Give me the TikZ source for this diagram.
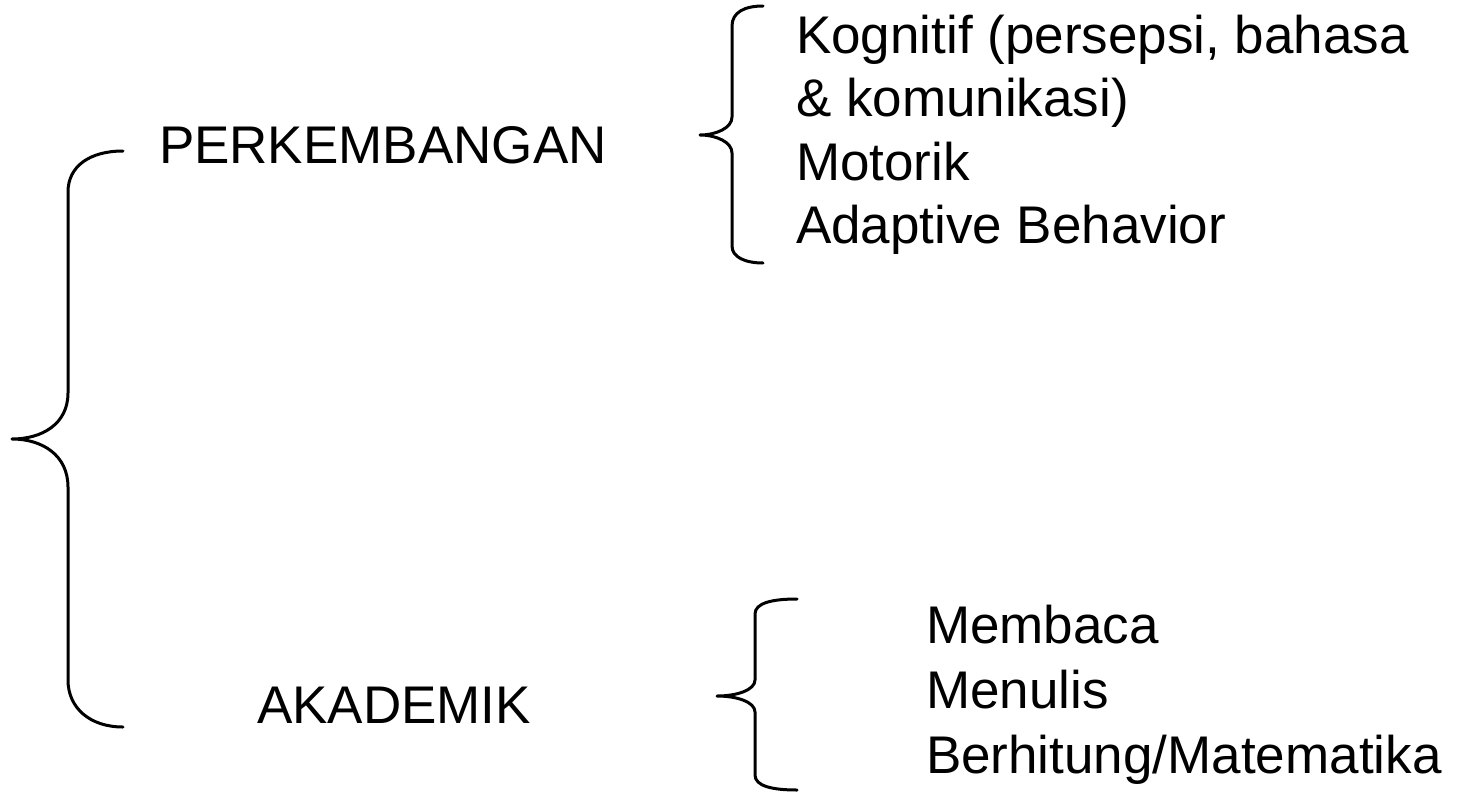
\documentclass[tikz,border=0pt]{standalone}
\usepackage{fontspec}
\setmainfont{Liberation Sans}
\begin{document}
\begin{tikzpicture}[x=1pt,y=-1pt,
  lbl/.style={inner sep=0pt,outer sep=0pt,anchor=base west,font=\fontsize{53}{64}\selectfont},
  bracepath/.style={draw=black,line width=3pt,line cap=round,line join=round}]
\useasboundingbox (0,0) rectangle (1466,795);
% texts
\node[lbl] (perk) at (159,163) {PERKEMBANGAN};
\node[lbl] (akad) at (257,723) {AKADEMIK};
\node[lbl] (kog1) at (796,53) {Kognitif (persepsi, bahasa};
\node[lbl] (kog2) at (796,116) {\& komunikasi)};
\node[lbl] (mot) at (796,180) {Motorik};
\node[lbl] (adp) at (796,243) {Adaptive Behavior};
\node[lbl] (mem) at (926,643) {Membaca};
\node[lbl] (men) at (926,708) {Menulis};
\node[lbl] (ber) at (926,773) {Berhitung/Matematika};
% big brace
\draw[bracepath] (123,151) .. controls (90,151) and (68,166) .. (68,192)
  -- (68,393) .. controls (68,424) and (42,439) .. (12,439)
  .. controls (42,439) and (68,455) .. (68,487)
  -- (68,680) .. controls (68,708) and (90,727) .. (123,727);
% brace for PERKEMBANGAN items
\draw[bracepath] (763,6) .. controls (745,6) and (732,12) .. (732,26)
  -- (732,117) .. controls (732,128) and (716,135) .. (700,135)
  .. controls (716,135) and (732,142) .. (732,153)
  -- (732,246) .. controls (732,257) and (745,263) .. (763,263);
% brace for AKADEMIK items
\draw[bracepath] (797,599) .. controls (772,599) and (755,603) .. (755,614)
  -- (755,680) .. controls (755,690) and (737,696) .. (717,696)
  .. controls (737,696) and (755,702) .. (755,712)
  -- (755,775) .. controls (755,786) and (772,790) .. (797,790);
\end{tikzpicture}
\end{document}
